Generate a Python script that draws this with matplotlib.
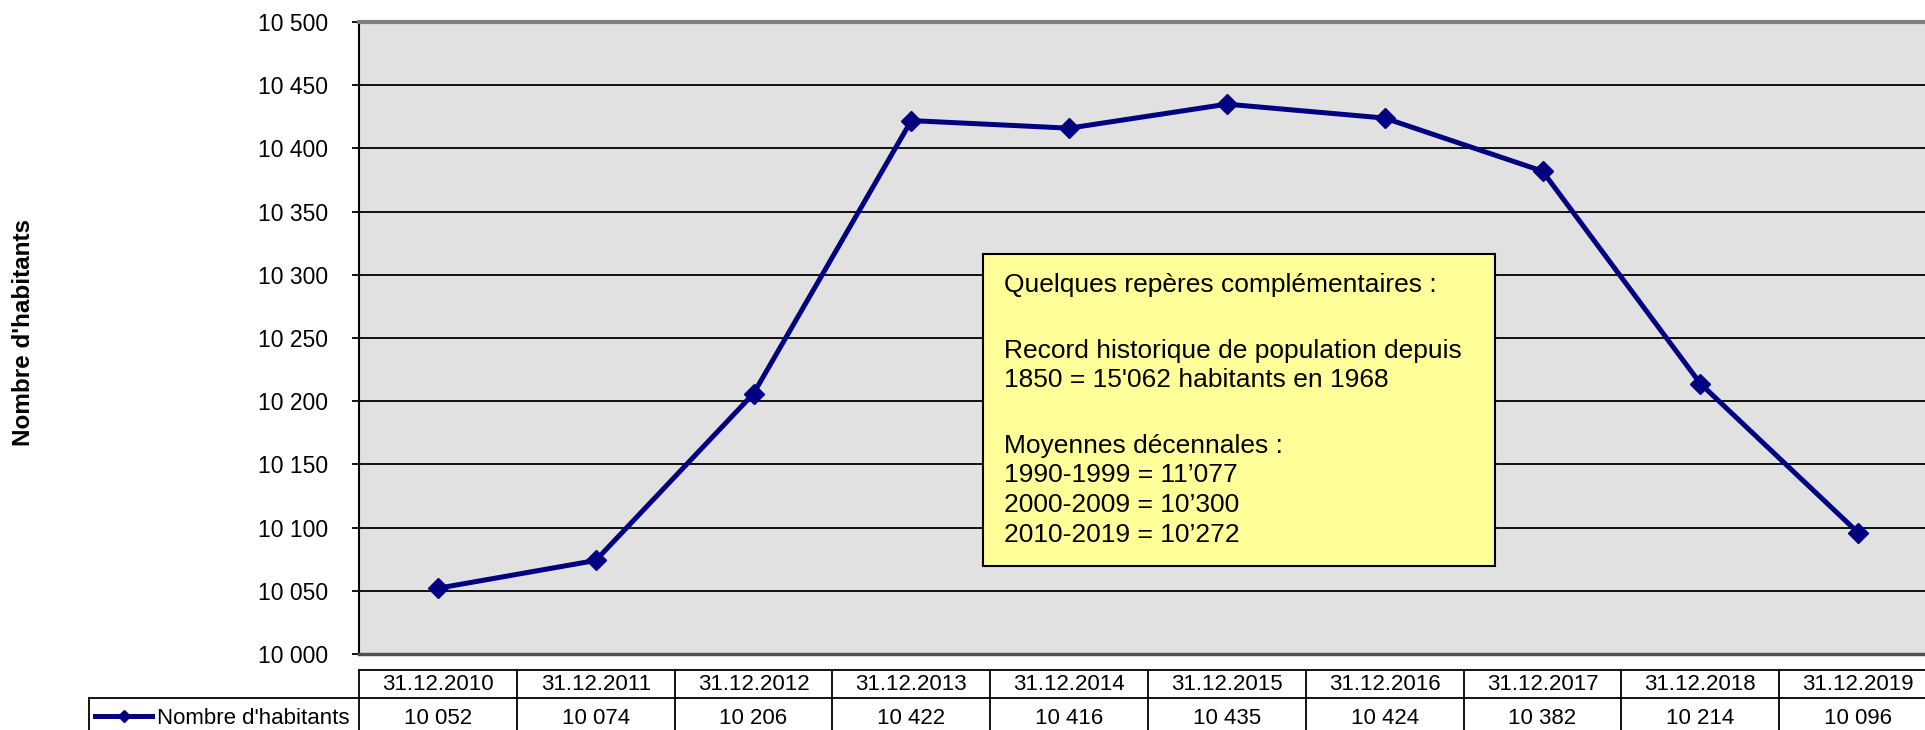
"""
Population line chart with a data table underneath -> out.png
"""
import numpy as np
import matplotlib
matplotlib.use("Agg")
import matplotlib.pyplot as plt
from matplotlib.lines import Line2D
from matplotlib.patches import Rectangle
from matplotlib.transforms import blended_transform_factory

plt.rcParams["font.family"] = ["Liberation Sans", "DejaVu Sans"]

# data
dates = ["31.12.2010", "31.12.2011", "31.12.2012", "31.12.2013", "31.12.2014",
         "31.12.2015", "31.12.2016", "31.12.2017", "31.12.2018", "31.12.2019"]
habitants = [10052, 10074, 10206, 10422, 10416, 10435, 10424, 10382, 10214, 10096]
series_name = "Nombre d'habitants"
y_ticks = list(range(10000, 10501, 50))
note_lines = ["Quelques repères complémentaires :",
              "",
              "Record historique de population depuis",
              "1850 = 15'062 habitants en 1968",
              "",
              "Moyennes décennales :",
              "1990-1999 = 11’077",
              "2000-2009 = 10’300",
              "2010-2019 = 10’272"]

NAVY = "#000080"
W, H = 1925, 730


def fx(x):   # pixel -> figure fraction (x)
    return x / W


def fy(y):   # pixel from top -> figure fraction (y)
    return 1 - y / H


def fmt(v):
    return f"{v:,}".replace(",", " ")


fig = plt.figure(figsize=(W / 100, H / 100), dpi=100)
ax = fig.add_axes([fx(359), fy(654), fx(1937 - 359), (654 - 22) / H])
ax.set_facecolor("#e1e1e1")

xs = np.arange(len(habitants))
ax.plot(xs, habitants, color=NAVY, lw=3.6, marker="D", ms=10.5, zorder=3, clip_on=False)

ax.set_xlim(-0.5, len(habitants) - 0.5)
ax.set_ylim(y_ticks[0], y_ticks[-1])
ax.set_yticks(y_ticks)
ax.set_yticklabels([fmt(v) for v in y_ticks], fontsize=16.5)
ax.tick_params(axis="y", length=5, width=1.3, pad=17)
ax.set_xticks([])
ax.yaxis.grid(True, color="black", lw=1.3)
ax.set_axisbelow(True)

ax.spines["left"].set_color("black")
ax.spines["left"].set_linewidth(1.5)
ax.spines["top"].set_color("#808080")
ax.spines["top"].set_linewidth(3)
ax.spines["bottom"].set_color("#505050")
ax.spines["bottom"].set_linewidth(2.5)
ax.spines["right"].set_visible(False)

fig.text(fx(24), fy(332), series_name, rotation=90, fontsize=17.5,
         fontweight="bold", ha="center", va="center")

# yellow note box
fig.patches.append(Rectangle((fx(983), fy(566)), fx(1495 - 983), (566 - 254) / H,
                             transform=fig.transFigure, fc="#ffff99", ec="black",
                             lw=1.5, zorder=5))
y = 282
for i, line in enumerate(note_lines):
    if line:
        fig.text(fx(1004), fy(y), line, fontsize=19, ha="left",
                 va="center_baseline", zorder=6)
    y += 33 if (line == "" or (i + 1 < len(note_lines) and note_lines[i + 1] == "")) else 29.5

# data table below the axes
tr = blended_transform_factory(ax.transData, fig.transFigure)
top, mid, bot = 670, 698, 745
edges = np.arange(len(dates) + 1) - 0.5
for yy in (top, mid):
    ax.add_line(Line2D([edges[0], edges[-1]], [fy(yy), fy(yy)], transform=tr,
                       color="black", lw=1.3, clip_on=False))
for e in edges:
    ax.add_line(Line2D([e, e], [fy(top), fy(bot)], transform=tr,
                       color="black", lw=1.3, clip_on=False))
for i, (d, v) in enumerate(zip(dates, habitants)):
    ax.text(i, fy(685), d, transform=tr, ha="center", va="center", fontsize=16)
    ax.text(i, fy(718), fmt(v), transform=tr, ha="center", va="center", fontsize=16)

# legend cell
fig.add_artist(Line2D([fx(89), fx(359)], [fy(mid), fy(mid)], color="black", lw=1.3))
fig.add_artist(Line2D([fx(89), fx(89)], [fy(mid), fy(bot)], color="black", lw=1.3))
fig.add_artist(Line2D([fx(95), fx(152)], [fy(716), fy(716)], color=NAVY, lw=3.6))
fig.add_artist(Line2D([fx(124)], [fy(716)], color=NAVY, marker="D", ms=6))
fig.text(fx(157), fy(718), series_name, ha="left", va="center", fontsize=16)

fig.savefig("out.png", dpi=100, facecolor="white")
